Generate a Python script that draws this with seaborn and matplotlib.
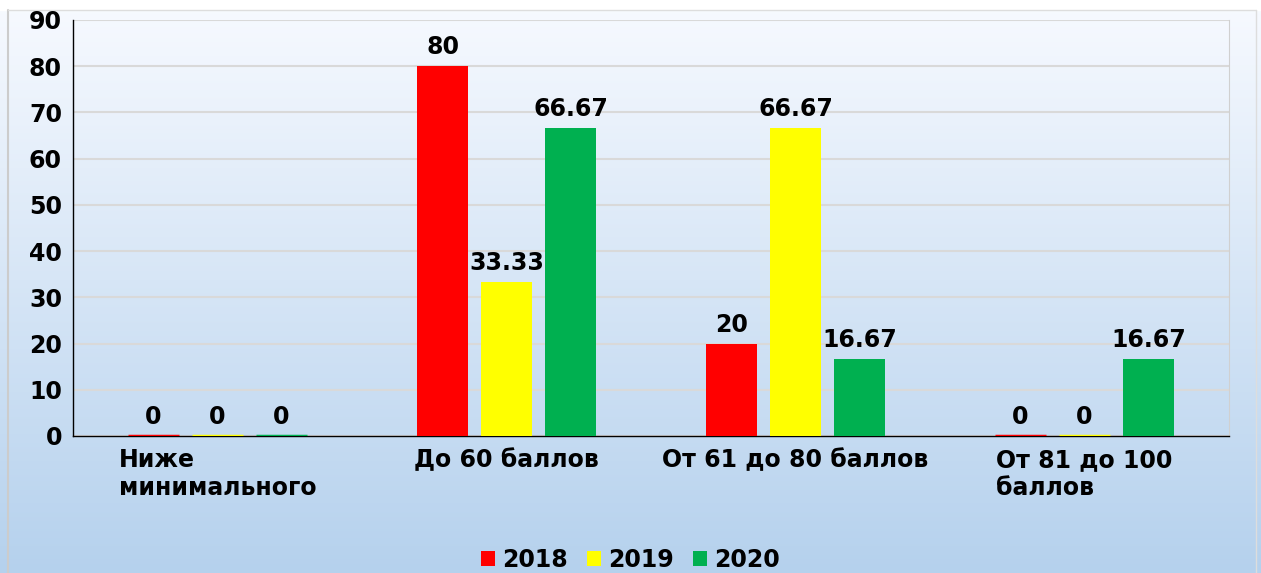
import numpy as np
import pandas as pd
import matplotlib
matplotlib.use("Agg")
import matplotlib.pyplot as plt
import seaborn as sns

# Data
categories = ["Ниже\nминимального", "До 60 баллов", "От 61 до 80 баллов", "От 81 до 100\nбаллов"]
years = ["2018", "2019", "2020"]
values_2018 = [0, 80, 20, 0]
values_2019 = [0, 33.33, 66.67, 0]
values_2020 = [0, 66.67, 16.67, 16.67]
colors = ["#ff0000", "#ffff00", "#00b050"]
y_ticks = [0, 10, 20, 30, 40, 50, 60, 70, 80, 90]

df = pd.DataFrame({
    "Category": categories * 3,
    "Year": [y for y in years for _ in categories],
    "Value": values_2018 + values_2019 + values_2020,
})

sns.set_style("white")
plt.rcParams["font.family"] = ["DejaVu Sans"]
plt.rcParams["font.weight"] = "bold"
plt.rcParams["text.color"] = "black"
plt.rcParams["xtick.color"] = "black"
plt.rcParams["ytick.color"] = "black"

fig = plt.figure(figsize=(12.61, 5.73), dpi=100)

# background gradient
bg = fig.add_axes([0, 0, 1, 1], zorder=-10)
grad = np.linspace(0, 1, 256).reshape(-1, 1)
top = np.array([0.97, 0.98, 1.0])
bottom = np.array([0.71, 0.82, 0.93])
img = top + (bottom - top) * grad[:, :, None]
bg.imshow(img, aspect="auto", extent=[0, 1, 0, 1], origin="upper")
bg.fill_between([0, 1], 0.983, 1.0, color="white", zorder=2)
bg.plot([0.006, 0.006], [0, 0.983], color="#cccccc", lw=1.5, zorder=3)
bg.plot([0.006, 0.996], [0.983, 0.983], color="#dddddd", lw=1.0, zorder=3)
bg.plot([0.996, 0.996], [0, 0.983], color="#dddddd", lw=1.0, zorder=3)
bg.set_xlim(0, 1)
bg.set_ylim(0, 1)
bg.axis("off")

ax = fig.add_axes([0.0579, 0.2391, 0.9167, 0.726])
ax.set_facecolor("none")

sns.barplot(
    data=df, x="Category", y="Value", hue="Year",
    palette=colors, width=0.664, gap=0.2, ax=ax, legend=True,
    saturation=1, zorder=3, linewidth=0, edgecolor="none",
)

# zero bars drawn as thin lines like the original
for cont, col in zip(ax.containers, colors):
    for bar in cont:
        if bar.get_height() == 0:
            x0 = bar.get_x()
            ax.plot([x0, x0 + bar.get_width()], [0, 0], color=col, lw=2.5,
                    zorder=4, solid_capstyle="butt")
    labels = [f"{v:g}" for v in cont.datavalues]
    ax.bar_label(cont, labels=labels, padding=5, fontsize=17, fontweight="bold",
                 color="black")

ax.set_ylim(0, 90)
ax.set_yticks(y_ticks)
ax.set_xlim(-0.5, 3.5)
ax.yaxis.grid(True, color="#d9d9d9", lw=1.5, zorder=0)
ax.set_axisbelow(True)
ax.set_xlabel("")
ax.set_ylabel("")
ax.tick_params(axis="y", labelsize=17, length=0, pad=8)
ax.tick_params(axis="x", labelsize=17, length=0, pad=9)
for lab in ax.get_xticklabels():
    lab.set_multialignment("left")
    lab.set_verticalalignment("top")
for lab in ax.get_xticklabels() + ax.get_yticklabels():
    lab.set_fontweight("bold")

for s in ["left", "bottom"]:
    ax.spines[s].set_color("black")
    ax.spines[s].set_linewidth(1.0)
ax.spines["top"].set_visible(False)
ax.spines["right"].set_color("#d0d0d0")

handles, texts = ax.get_legend_handles_labels()
ax.get_legend().remove()
fig.legend(
    handles, texts, loc="lower center", bbox_to_anchor=(0.5, -0.035), ncol=3,
    frameon=False, prop={"size": 17, "weight": "bold"}, handlelength=0.6,
    handleheight=0.6, handletextpad=0.3, columnspacing=0.8,
)

plt.savefig("out.png", dpi=100)
